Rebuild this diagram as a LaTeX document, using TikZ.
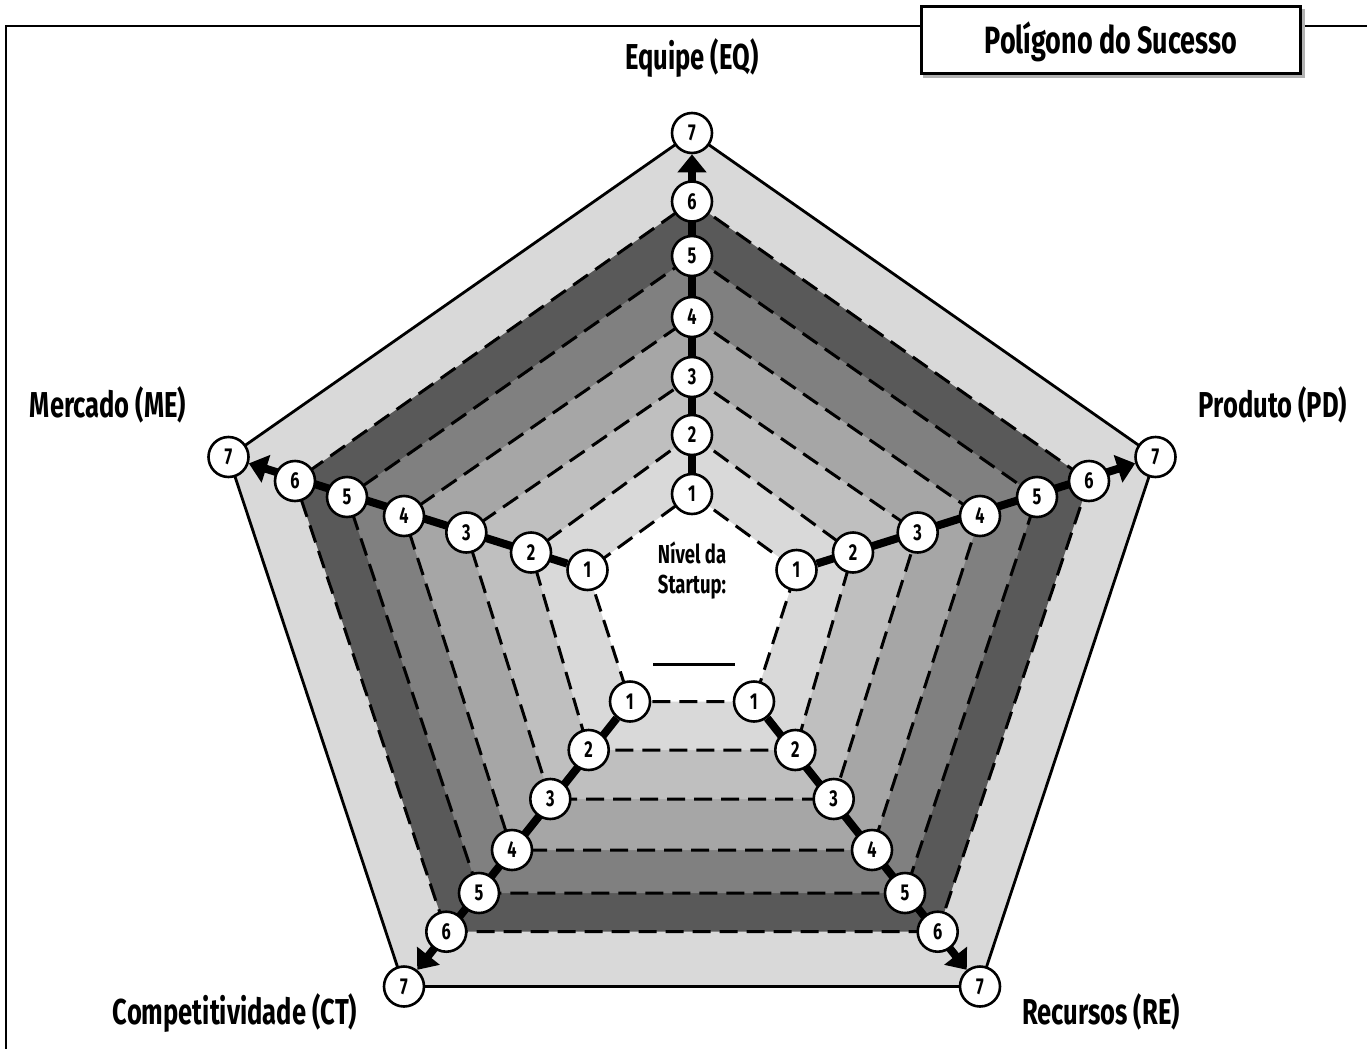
\documentclass[tikz,border=0pt]{standalone}
\usepackage{fontspec}
\setmainfont{Fira Sans}[FakeStretch=0.71]
\usetikzlibrary{arrows.meta}
\definecolor{gA}{HTML}{D9D9D9}
\definecolor{gB}{HTML}{BFBFBF}
\definecolor{gC}{HTML}{A6A6A6}
\definecolor{gD}{HTML}{808080}
\definecolor{gE}{HTML}{595959}
\pgfdeclarelayer{back}
\pgfsetlayers{back,main}
\begin{document}
\begin{tikzpicture}[x=1pt,y=-1pt,
  num/.style={circle,draw,line width=2.6pt,fill=white,minimum size=40pt,inner sep=0pt,
    font=\fontsize{23}{23}\selectfont\bfseries},
  lab/.style={font=\fontsize{36}{36}\selectfont\bfseries,inner sep=0pt,anchor=base},
  ttl/.style={font=\fontsize{38}{38}\selectfont\bfseries,inner sep=0pt,anchor=base},
  mid/.style={font=\fontsize{26}{26}\selectfont\bfseries,inner sep=0pt,anchor=base},
  ringline/.style={line width=3pt,dash pattern=on 18pt off 9pt},
  outerline/.style={line width=2.8pt},
  axisline/.style={line width=8pt,-{Triangle[length=18pt,width=28pt]}},
  frameline/.style={line width=2.5pt}]
\useasboundingbox (0,0) rectangle (1367,1049);
% frame
\draw[frameline] (1367,26) -- (6,26) -- (6,1049);
% circles
\foreach \k/\ty/\sx/\sy/\bx/\by in {
  1/494/104.5/570/62/701.5,
  2/435/161/552.5/103.3/750,
  3/377/225.7/532.5/141.7/799,
  4/317/288/516/180/850,
  5/256/345/497/213/893,
  6/201.5/397/481/245.7/931.7,
  7/133/463.5/457/288/986.5}{
  \node[num] (t\k) at (692,\ty) {\k};
  \node[num] (r\k) at ({692+\sx},\sy) {\k};
  \node[num] (l\k) at ({692-\sx},\sy) {\k};
  \node[num] (br\k) at ({692+\bx},\by) {\k};
  \node[num] (bl\k) at ({692-\bx},\by) {\k};
}
\begin{pgfonlayer}{back}
  \fill[white] (0,0) rectangle (1367,1049);
  \foreach \k/\col in {7/gA,6/gE,5/gD,4/gC,3/gB,2/gA,1/white}{
    \fill[\col] (t\k.center) -- (r\k.center) -- (br\k.center) -- (bl\k.center) -- (l\k.center) -- cycle;
  }
  \draw[outerline] (t7.center) -- (r7.center) -- (br7.center) -- (bl7.center) -- (l7.center) -- cycle;
  \foreach \k in {1,...,6}{
    \draw[ringline] (t\k.center) -- (r\k.center) -- (br\k.center) -- (bl\k.center) -- (l\k.center) -- cycle;
  }
  \draw[axisline] (t1) -- (t7);
  \draw[axisline] (r1) -- (r7);
  \draw[axisline] (l1) -- (l7);
  \draw[axisline] (br1) -- (br7);
  \draw[axisline] (bl1) -- (bl7);
\end{pgfonlayer}
% center text
\node[mid] (nivel) at (692,563) {Nível da};
\node[mid] (startup) at (692,593) {Startup:};
\coordinate (blankL) at (653,664);
\coordinate (blankR) at (735,664);
\draw[line width=3pt] (blankL) -- (blankR);
% axis labels
\node[lab] (eq) at (692,70) {Equipe (EQ)};
\node[lab] (me) at (108,417) {Mercado (ME)};
\node[lab] (pd) at (1273,417) {Produto (PD)};
\node[lab] (ct) at (235,1024) {Competitividade (CT)};
\node[lab] (re) at (1101,1024) {Recursos (RE)};
% title
\fill[black!30] (923,9) rectangle (1305,78);
\node[draw,line width=3pt,fill=white,minimum width=379pt,minimum height=67pt,inner sep=0pt] (titlebox) at (1111,40) {};
\node[ttl] (title) at (1111,54) {Polígono do Sucesso};
\end{tikzpicture}
\end{document}
